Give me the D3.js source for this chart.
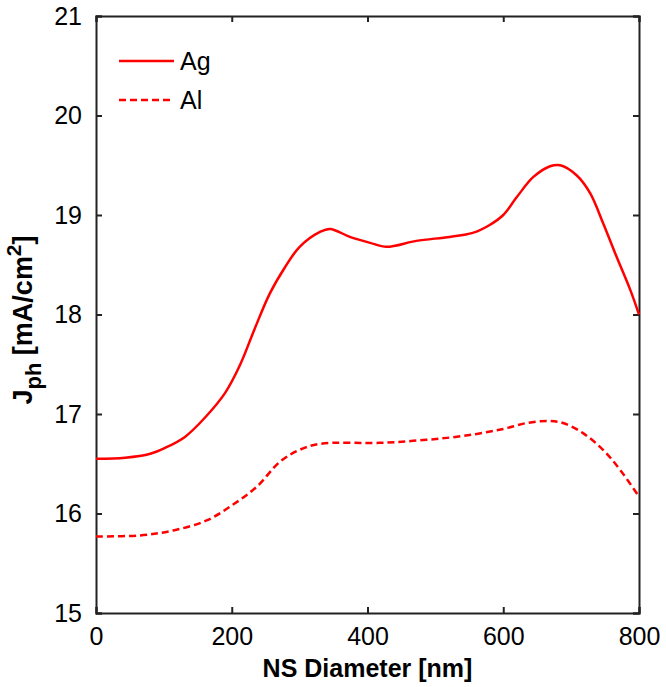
<!DOCTYPE html>
<html>
<head>
<meta charset="utf-8">
<script src="https://cdn.jsdelivr.net/npm/d3@7"></script>
<style>
  body { margin: 0; background: #fff; }
  text { font-family: Arial, "Liberation Sans", sans-serif; }
</style>
</head>
<body>
<svg id="chart" width="666" height="687"></svg>
<script>
// NS diameter [nm] and photocurrent J_ph [mA/cm^2]
const agDiameter = [0, 43, 80, 102, 131, 160, 190, 212, 234, 256, 278, 300, 330, 345, 374, 404, 428, 472, 521, 555, 580, 600, 620, 644, 669, 684, 708, 728, 747, 767, 787, 800];
const agJph = [16.55, 16.56, 16.60, 16.66, 16.77, 16.96, 17.21, 17.49, 17.86, 18.21, 18.47, 18.68, 18.83, 18.86, 18.78, 18.72, 18.68, 18.74, 18.78, 18.82, 18.90, 19.00, 19.18, 19.38, 19.49, 19.50, 19.40, 19.22, 18.92, 18.58, 18.25, 18.00];

const alDiameter = [0, 65, 114, 163, 202, 237, 271, 300, 330, 418, 467, 517, 561, 600, 635, 666, 688, 717, 747, 772, 800];
const alJph = [15.77, 15.78, 15.83, 15.93, 16.09, 16.27, 16.52, 16.64, 16.70, 16.71, 16.73, 16.76, 16.80, 16.85, 16.91, 16.93, 16.91, 16.81, 16.64, 16.44, 16.17];

const xTicks = [0, 200, 400, 600, 800];
const yTicks = [15, 16, 17, 18, 19, 20, 21];

const series = [
    { name: 'Ag', x: agDiameter, y: agJph, dash: null },
    { name: 'Al', x: alDiameter, y: alJph, dash: '7,4' }
];

const plotLeft = 96, plotRight = 639, plotTop = 16, plotBottom = 613;
const svg = d3.select('#chart');

const x = d3.scaleLinear().domain([0, 800]).range([plotLeft, plotRight]);
const y = d3.scaleLinear().domain([15, 21]).range([plotBottom, plotTop]);

// axes with inward ticks, mirrored on top/right like matlab's box on
const tickLen = 6;
svg.append('g')
    .attr('transform', `translate(0,${plotBottom})`)
    .call(d3.axisBottom(x).tickValues(xTicks).tickSize(-tickLen).tickPadding(14).tickFormat(d3.format('d')));
svg.append('g')
    .attr('transform', `translate(0,${plotTop})`)
    .call(d3.axisTop(x).tickValues(xTicks).tickSize(-tickLen).tickFormat(''));
svg.append('g')
    .attr('transform', `translate(${plotLeft},0)`)
    .call(d3.axisLeft(y).tickValues(yTicks).tickSize(-tickLen).tickPadding(14).tickFormat(d3.format('d')));
svg.append('g')
    .attr('transform', `translate(${plotRight},0)`)
    .call(d3.axisRight(y).tickValues(yTicks).tickSize(-tickLen).tickFormat(''));

svg.selectAll('.domain').attr('stroke', '#222').attr('stroke-width', 2);
svg.selectAll('.tick line').attr('stroke', '#222').attr('stroke-width', 2);
svg.selectAll('.tick text')
    .attr('font-family', 'Arial, "Liberation Sans", sans-serif')
    .attr('font-size', 25)
    .attr('fill', '#000');

// curves
const line = d3.line()
    .x(d => x(d[0]))
    .y(d => y(d[1]))
    .curve(d3.curveCatmullRom.alpha(0.5));

series.forEach(s => {
    const pts = s.x.map((v, i) => [v, s.y[i]]);
    svg.append('path')
        .datum(pts)
        .attr('d', line)
        .attr('fill', 'none')
        .attr('stroke', '#f00')
        .attr('stroke-width', 2.5)
        .attr('stroke-dasharray', s.dash);
});

// legend
const legend = svg.append('g');
series.forEach((s, i) => {
    const ly = 61 + i * 39;
    legend.append('line')
        .attr('x1', 119).attr('x2', 174)
        .attr('y1', ly).attr('y2', ly)
        .attr('stroke', '#f00')
        .attr('stroke-width', 2.5)
        .attr('stroke-dasharray', s.dash);
    legend.append('text')
        .attr('x', 180).attr('y', ly + 9)
        .attr('font-size', 25)
        .text(s.name);
});

// axis titles
svg.append('text')
    .attr('x', (plotLeft + plotRight) / 2)
    .attr('y', 677)
    .attr('text-anchor', 'middle')
    .attr('font-size', 25)
    .attr('font-weight', 'bold')
    .text('NS Diameter [nm]');

const yTitle = svg.append('text')
    .attr('transform', `translate(32,320) rotate(-90)`)
    .attr('text-anchor', 'middle')
    .attr('font-size', 27)
    .attr('font-weight', 'bold');
yTitle.append('tspan').text('J');
yTitle.append('tspan').attr('dy', 9).attr('font-size', 22).text('ph');
yTitle.append('tspan').attr('dy', -9).text(' [mA/cm');
yTitle.append('tspan').attr('dy', -11).attr('font-size', 21).text('2');
yTitle.append('tspan').attr('dy', 11).text(']');
</script>
</body>
</html>
